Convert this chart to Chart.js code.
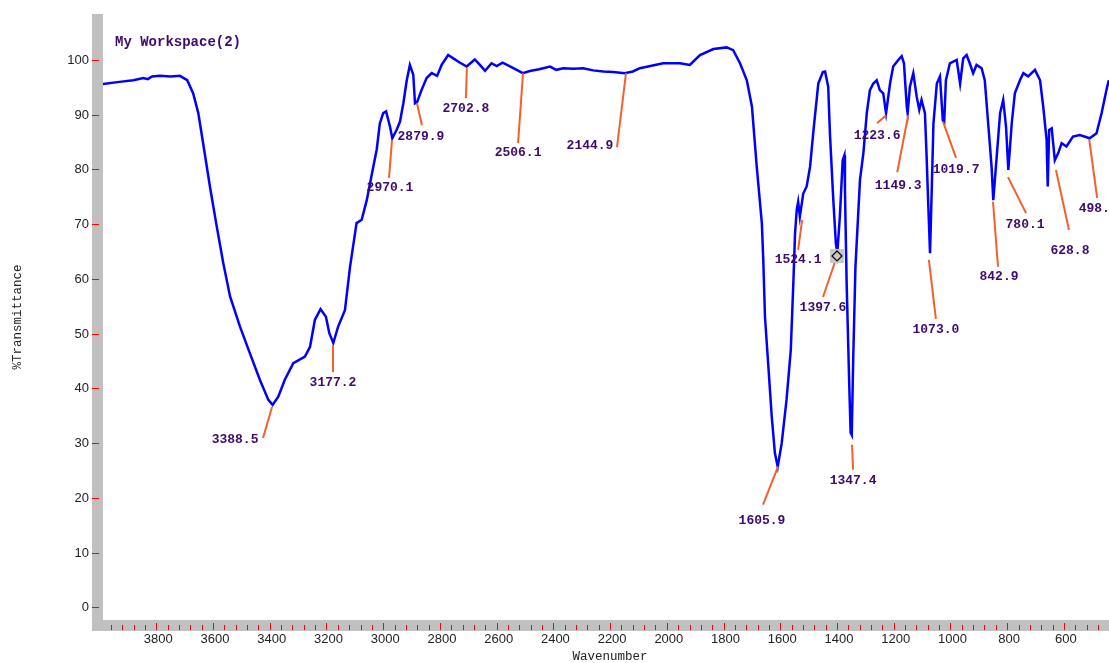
<!DOCTYPE html>
<html>
<head>
<meta charset="utf-8">
<script src="https://cdn.jsdelivr.net/npm/chart.js@4.4.1/dist/chart.umd.min.js"></script>
<style>
    html, body { margin: 0; padding: 0; background: #fff; }
    #wrap { width: 1109px; height: 663px; position: relative; }
</style>
</head>
<body>
<div id="wrap"><canvas id="irChart"></canvas></div>
<script>
// IR spectrum, wavenumber (cm-1) vs %T
const wavenumbers = [
    3989, 3930, 3881, 3846, 3830, 3815, 3787, 3750, 3717, 3691, 3670, 3652, 3635, 3611, 3587, 3564,
    3540, 3505, 3470, 3435, 3405, 3390, 3370, 3347, 3317, 3276, 3258, 3241, 3221, 3202, 3190, 3176,
    3159, 3135, 3117, 3094, 3076, 3058, 3035, 3023, 3012, 3000, 2990, 2976, 2968, 2953, 2941, 2929,
    2917, 2906, 2894, 2888, 2880, 2865, 2847, 2829, 2810, 2794, 2771, 2753, 2729, 2706, 2677, 2659,
    2641, 2618, 2600, 2579, 2541, 2508, 2483, 2450, 2412, 2390, 2365, 2330, 2295, 2260, 2224, 2190,
    2148, 2120, 2095, 2013, 1954, 1919, 1883, 1836, 1789, 1766, 1742, 1718, 1700, 1683, 1665, 1660,
    1654, 1642, 1630, 1619, 1609, 1595, 1578, 1563, 1554, 1548, 1542, 1537, 1531, 1519, 1507, 1495,
    1484, 1466, 1450, 1442, 1431, 1425, 1413, 1404, 1399, 1390, 1380, 1374, 1372, 1366, 1357, 1352,
    1348, 1343, 1335, 1319, 1307, 1295, 1284, 1272, 1260, 1249, 1237, 1227, 1213, 1202, 1184, 1172,
    1164, 1154, 1151, 1143, 1131, 1119, 1110, 1102, 1090, 1084, 1078, 1072, 1066, 1060, 1048, 1037,
    1027, 1022, 1016, 1002, 978, 966, 955, 943, 932, 920, 908, 890, 879, 867, 855, 849,
    837, 825, 814, 804, 796, 784, 773, 755, 743, 726, 702, 684, 673, 661, 657, 652,
    643, 632, 620, 608, 591, 568, 544, 509, 485, 467, 450, 442
];
const transmittance = [
    95.6, 96.0, 96.3, 96.7, 96.5, 97.0, 97.1, 97.0, 97.1, 96.3, 93.9, 90.3, 84.8, 76.9, 69.6, 62.9,
    56.8, 51.3, 46.4, 41.6, 37.9, 37.0, 38.5, 41.6, 44.6, 45.8, 47.6, 52.5, 54.5, 53.1, 50.1, 48.3,
    51.3, 54.3, 62.2, 70.2, 70.8, 74.4, 80.5, 83.6, 88.4, 90.3, 90.6, 87.8, 85.7, 87.2, 88.7, 92.1,
    96.3, 99.1, 97.3, 92.1, 92.4, 94.5, 96.7, 97.6, 97.1, 99.1, 100.9, 100.3, 99.5, 98.8, 100.1, 99.1,
    98.0, 99.4, 98.9, 99.5, 98.5, 97.6, 98.0, 98.3, 98.8, 98.2, 98.5, 98.4, 98.5, 98.1, 97.9, 97.8,
    97.6, 97.9, 98.5, 99.4, 99.4, 99.1, 100.9, 102.0, 102.3, 101.8, 99.4, 96.3, 91.5, 80.5, 70.2, 63.5,
    53.1, 44.0, 34.8, 28.2, 25.7, 30.0, 37.9, 47.0, 59.2, 68.3, 72.6, 74.1, 71.4, 75.6, 76.9, 80.5,
    86.6, 95.7, 97.8, 97.9, 95.1, 86.6, 74.4, 66.5, 64.7, 71.4, 81.7, 82.6, 76.3, 59.2, 41.0, 31.9,
    31.5, 45.0, 62.2, 78.1, 83.0, 90.3, 94.5, 95.7, 96.3, 94.5, 93.9, 90.3, 95.7, 98.8, 100.0, 100.7,
    99.4, 91.5, 90.3, 95.1, 97.6, 93.3, 90.9, 92.7, 90.3, 82.3, 73.2, 64.7, 76.3, 88.4, 95.7, 97.0,
    89.0, 88.7, 96.3, 99.4, 100.0, 95.7, 100.3, 100.9, 99.4, 97.6, 99.1, 98.5, 96.3, 88.4, 80.5, 74.4,
    82.3, 90.3, 92.7, 87.8, 79.9, 88.4, 93.9, 96.3, 97.6, 97.0, 98.2, 96.3, 91.5, 85.4, 76.9, 87.2,
    87.5, 81.7, 83.0, 84.8, 84.2, 86.0, 86.3, 85.7, 86.6, 90.3, 94.5, 96.3
];

// picked peaks: label text, where the leader touches the curve
const peakLabels = ['3388.5', '3177.2', '2970.1', '2879.9', '2702.8', '2506.1', '2144.9', '1605.9', '1524.1',
    '1397.6', '1347.4', '1223.6', '1149.3', '1073.0', '1019.7', '842.9', '780.1', '628.8', '498.3'];
const peakWn = [3392, 3177, 2969, 2881, 2705, 2507, 2144, 1608, 1523, 1400, 1347, 1227, 1149, 1076, 1026, 850, 797, 628, 511];
const peakT = [36.6, 47.9, 85.4, 92.1, 98.5, 97.6, 97.6, 25.7, 70.8, 64.2, 29.7, 89.9, 89.9, 63.5, 88.7, 74.1, 78.6, 79.9, 85.6];

const yTicks = [0, 10, 20, 30, 40, 50, 60, 70, 80, 90, 100];
const xTicks = [3800, 3600, 3400, 3200, 3000, 2800, 2600, 2400, 2200, 2000, 1800, 1600, 1400, 1200, 1000, 800, 600];

// leader end (dx, dy) and label centre (dx, dy) in px from the peak point
const labelOffsets = [
    [-9, 31, -37, 33], [0, 27, 0, 38], [-3, 38, -2, 48], [5, 22, 4, 33], [-1, 30, -1, 41],
    [-5, 70, -5, 80], [-9, 74, -36, 73], [-15, 38, -16, 54], [-4, 30, -4, 40], [-14, 41, -14, 52],
    [1, 25, 1, 36], [-9, 8, -9, 20], [-11, 57, -10, 70], [7, 59, 7, 70], [13, 36, 13, 48],
    [5, 65, 6, 75], [18, 36, 17, 48], [13, 60, 14, 81], [8, 59, 9, 70]
];
const markedPeak = '1397.6';

const GRAY = '#c0c0c0';
const PURPLE = '#3d0a6e';
const ORANGE = '#f4602c';

const framePlugin = {
    id: 'frame',
    beforeDraw(chart) {
        const { ctx, chartArea, scales } = chart;
        const xs = scales.x, ys = scales.y;
        ctx.save();
        // gray axis bars
        ctx.fillStyle = GRAY;
        ctx.fillRect(chartArea.left - 11, chartArea.top, 11, chartArea.bottom - chartArea.top + 11);
        ctx.fillRect(chartArea.left - 11, chartArea.bottom, chartArea.right - chartArea.left + 11, 11);

        // y ticks
        ctx.strokeStyle = '#ff0000';
        ctx.lineWidth = 1;
        ctx.fillStyle = '#222';
        ctx.font = '13px "Liberation Sans", Arial, sans-serif';
        ctx.textAlign = 'right';
        ctx.textBaseline = 'middle';
        yTicks.forEach(v => {
            const py = Math.round(ys.getPixelForValue(v)) + 0.5;
            ctx.beginPath();
            ctx.moveTo(chartArea.left - 11, py);
            ctx.lineTo(chartArea.left - 4, py);
            ctx.stroke();
            ctx.fillText(String(v), chartArea.left - 14, py);
        });

        // x ticks, minor every 40
        ctx.textAlign = 'center';
        for (let w = 3960; w >= 480; w -= 40) {
            const px = Math.round(xs.getPixelForValue(w)) + 0.5;
            const major = xTicks.includes(w);
            ctx.beginPath();
            ctx.moveTo(px, chartArea.bottom + (major ? 3 : 5));
            ctx.lineTo(px, chartArea.bottom + 10);
            ctx.stroke();
        }
        xTicks.forEach(w => {
            ctx.fillText(String(w), xs.getPixelForValue(w) + 2, chartArea.bottom + 19);
        });

        // axis titles
        ctx.font = '12.5px "Liberation Mono", monospace';
        ctx.fillText('Wavenumber', 610, 657);
        ctx.save();
        ctx.translate(18, 317);
        ctx.rotate(-Math.PI / 2);
        ctx.fillText('%Transmittance', 0, 0);
        ctx.restore();

        // workspace title
        ctx.fillStyle = PURPLE;
        ctx.font = 'bold 14px "Liberation Mono", monospace';
        ctx.textAlign = 'left';
        ctx.fillText('My Workspace(2)', 115, 42);
        ctx.restore();
    },
    afterDatasetsDraw(chart) {
        const { ctx, scales } = chart;
        ctx.save();
        ctx.font = 'bold 13px "Liberation Mono", monospace';
        ctx.textAlign = 'center';
        ctx.textBaseline = 'middle';
        peakLabels.forEach((txt, i) => {
            const px = scales.x.getPixelForValue(peakWn[i]);
            const py = scales.y.getPixelForValue(peakT[i]);
            const [lx, ly, tx, ty] = labelOffsets[i];
            ctx.strokeStyle = ORANGE;
            ctx.lineWidth = 2;
            ctx.beginPath();
            ctx.moveTo(px, py);
            ctx.lineTo(px + lx, py + ly);
            ctx.stroke();
            if (txt === markedPeak) {
                ctx.fillStyle = '#c8c8c8';
                ctx.fillRect(px - 7, py - 7, 14, 14);
                ctx.strokeStyle = '#000';
                ctx.lineWidth = 1.2;
                ctx.beginPath();
                ctx.moveTo(px, py - 5);
                ctx.lineTo(px + 5, py);
                ctx.lineTo(px, py + 5);
                ctx.lineTo(px - 5, py);
                ctx.closePath();
                ctx.stroke();
            }
            ctx.fillStyle = PURPLE;
            ctx.fillText(txt, px + tx, py + ty);
        });
        ctx.restore();
    }
};

const ctx = document.getElementById('irChart').getContext('2d');
const irChart = new Chart(ctx, {
    type: 'line',
    data: {
        datasets: [{
            label: 'My Workspace(2)',
            data: wavenumbers.map((w, i) => ({ x: w, y: transmittance[i] })),
            borderColor: '#0000ff',
            borderWidth: 2.5,
            pointRadius: 0,
            tension: 0,
            fill: false
        }]
    },
    options: {
        responsive: true,
        maintainAspectRatio: false,
        animation: false,
        layout: { padding: { left: 103, right: 0, top: 14, bottom: 43 } },
        scales: {
            x: { type: 'linear', reverse: true, min: 441, max: 3988, display: false },
            y: { min: -2.3, max: 108.4, display: false }
        },
        plugins: {
            legend: { display: false },
            tooltip: { enabled: false }
        }
    },
    plugins: [framePlugin]
});
</script>
</body>
</html>
